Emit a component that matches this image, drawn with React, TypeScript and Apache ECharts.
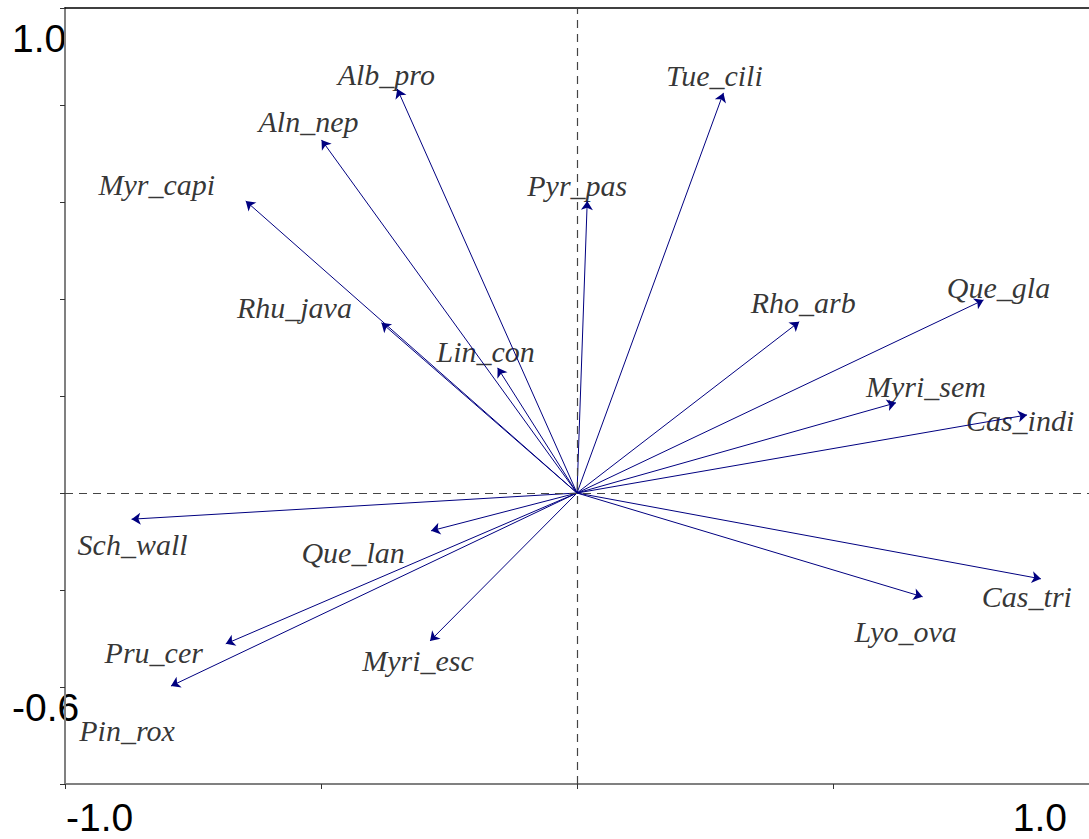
import React, { useEffect, useRef } from "react";
import * as echarts from "echarts";

// Species scores on the first two ordination axes
const speciesNames = [
  "Alb_pro", "Tue_cili", "Aln_nep", "Myr_capi", "Pyr_pas", "Rhu_java",
  "Lin_con", "Rho_arb", "Que_gla", "Myri_sem", "Cas_indi", "Sch_wall",
  "Que_lan", "Pru_cer", "Myri_esc", "Pin_rox", "Lyo_ova", "Cas_tri",
];
const axis1Scores = [
  -0.351, 0.286, -0.499, -0.647, 0.020, -0.382,
  -0.155, 0.434, 0.794, 0.623, 0.879, -0.870,
  -0.285, -0.686, -0.287, -0.793, 0.675, 0.906,
];
const axis2Scores = [
  0.833, 0.825, 0.728, 0.602, 0.602, 0.351,
  0.258, 0.353, 0.398, 0.186, 0.161, -0.054,
  -0.078, -0.311, -0.305, -0.398, -0.214, -0.177,
];

// Axis ranges and the end labels printed at each axis
const xRange = [-1.0, 1.0];
const yRange = [-0.6, 1.0];
const xEndLabels = ["-1.0", "1.0"];
const yEndLabels = ["-0.6", "1.0"];

// Label placement relative to each arrow tip (pixels)
const labelOffsets: Record<string, [number, number]> = {
  Alb_pro: [-11, -14],
  Tue_cili: [-9, -17],
  Aln_nep: [-13, -18],
  Myr_capi: [-89, -17],
  Pyr_pas: [-10, -16],
  Rhu_java: [-87, -15],
  Lin_con: [-12, -16],
  Rho_arb: [4, -19],
  Que_gla: [15, -12],
  Myri_sem: [30, -16],
  Cas_indi: [-7, 6],
  Sch_wall: [1, 25],
  Que_lan: [-78, 22],
  Pru_cer: [-72, 9],
  Myri_esc: [-12, 20],
  Pin_rox: [-44, 44],
  Lyo_ova: [-17, 35],
  Cas_tri: [-14, 18],
};

const ARROW = "#000080";
const AXIS_GREY = "#808080";

export default function App() {
  const ref = useRef<HTMLDivElement>(null);

  useEffect(() => {
    if (!ref.current) return;
    const chart = echarts.init(ref.current, undefined, { renderer: "svg" });

    const arrows = speciesNames.map((name, i) => ({
      name,
      coords: [
        [0, 0],
        [axis1Scores[i], axis2Scores[i]],
      ],
    }));

    const tips = speciesNames.map((name, i) => ({
      name,
      value: [axis1Scores[i], axis2Scores[i]],
      label: { offset: labelOffsets[name] },
    }));

    const endFont = {
      fontSize: 39,
      fontFamily: "'Liberation Sans', Arial, sans-serif",
      fill: "#000",
    };

    const hiddenLabels = { show: false };

    chart.setOption({
      animation: false,
      backgroundColor: "#fff",
      grid: {
        left: 65,
        top: 8,
        width: 1029,
        height: 776,
        show: false,
      },
      xAxis: [
        {
          type: "value",
          min: xRange[0],
          max: xRange[1],
          interval: 0.5,
          axisLine: { show: true, onZero: false, lineStyle: { color: AXIS_GREY, width: 2 } },
          axisTick: { show: true, length: 5, lineStyle: { color: "#333", width: 1 } },
          axisLabel: hiddenLabels,
          splitLine: { show: false },
        },
        {
          // frame line along the top edge
          type: "value",
          position: "top",
          min: xRange[0],
          max: xRange[1],
          interval: 0.5,
          axisLine: { show: true, onZero: false, lineStyle: { color: "#000", width: 1.5 } },
          axisTick: { show: false },
          axisLabel: hiddenLabels,
          splitLine: { show: false },
        },
      ],
      yAxis: {
        type: "value",
        min: yRange[0],
        max: yRange[1],
        interval: 0.2,
        axisLine: { show: true, onZero: false, lineStyle: { color: AXIS_GREY, width: 2 } },
        axisTick: { show: true, length: 5, lineStyle: { color: "#333", width: 1 } },
        axisLabel: hiddenLabels,
        splitLine: { show: false },
      },
      series: [
        {
          type: "scatter",
          symbolSize: 1,
          itemStyle: { color: "rgba(255,255,255,0)" },
          silent: true,
          data: tips,
          label: {
            show: true,
            position: "inside",
            formatter: "{b}",
            color: "#000",
            textBorderWidth: 0,
            fontSize: 30,
            fontStyle: "italic",
            fontFamily: "'Liberation Serif', 'Times New Roman', serif",
          },
          markLine: {
            silent: true,
            symbol: "none",
            label: { show: false },
            lineStyle: { color: "#444", type: [8, 6], width: 1.2 },
            data: [{ xAxis: 0 }, { yAxis: 0 }],
          },
          z: 3,
        },
        {
          type: "lines",
          coordinateSystem: "cartesian2d",
          silent: true,
          symbol: ["none", "arrow"],
          symbolSize: 9,
          lineStyle: { color: ARROW, width: 1, opacity: 1 },
          itemStyle: { color: ARROW },
          data: arrows,
          z: 4,
        },
      ],
      graphic: [
        { type: "text", x: 12, y: 38, style: { ...endFont, text: yEndLabels[1], align: "left", verticalAlign: "middle" } },
        { type: "text", x: 12, y: 707, style: { ...endFont, text: yEndLabels[0], align: "left", verticalAlign: "middle" } },
        { type: "text", x: 66, y: 817, style: { ...endFont, text: xEndLabels[0], align: "left", verticalAlign: "middle" } },
        { type: "text", x: 1067, y: 817, style: { ...endFont, text: xEndLabels[1], align: "right", verticalAlign: "middle" } },
      ],
    });

    return () => chart.dispose();
  }, []);

  return (
    <div
      ref={ref}
      style={{ position: "absolute", left: 0, top: 0, width: 1089, height: 839 }}
    />
  );
}
